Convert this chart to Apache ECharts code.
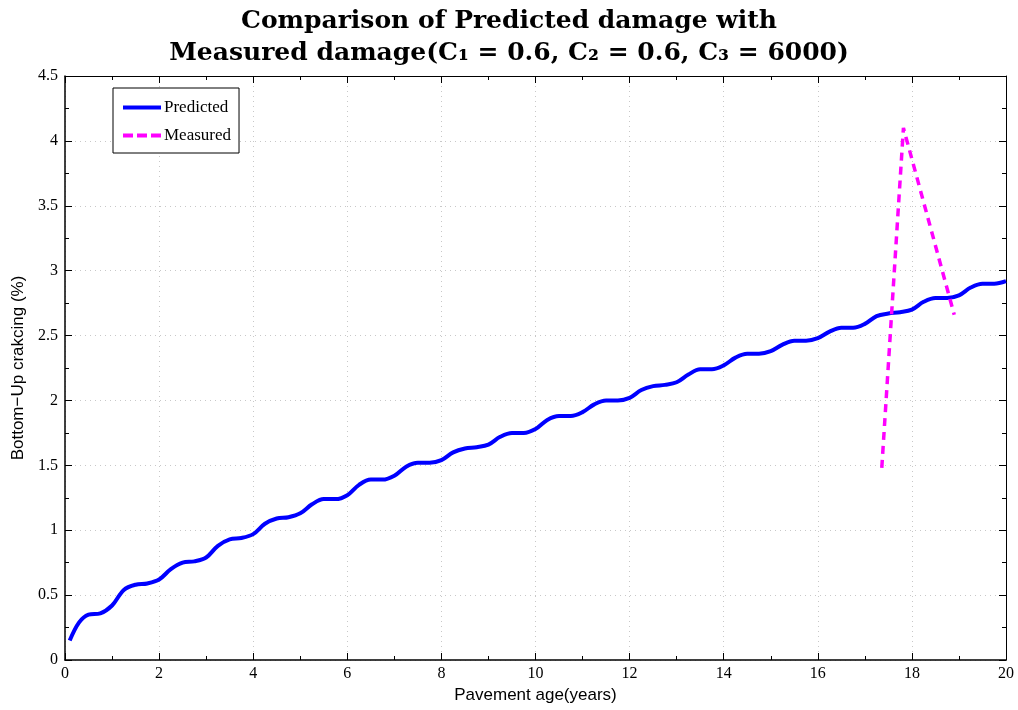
<!DOCTYPE html>
<html lang="en">
<head>
    <meta charset="UTF-8">
    <title>Predicted vs Measured damage</title>
    <script src="https://cdn.jsdelivr.net/npm/echarts@6/dist/echarts.min.js"></script>
    <style>
        html, body { margin: 0; padding: 0; background: #fff; }
        #chart { width: 1018px; height: 710px; }
    </style>
</head>
<body>
    <div id="chart"></div>
    <script>
        // pavement age (years), sampled every quarter year
        const ageYears = [0.1, 0.3, 0.5, 0.75, 1, 1.25, 1.5, 1.75, 2, 2.25, 2.5, 2.75, 3, 3.25, 3.5, 3.75, 4,
            4.25, 4.5, 4.75, 5, 5.25, 5.5, 5.75, 6, 6.25, 6.5, 6.75, 7, 7.25, 7.5, 7.75, 8,
            8.25, 8.5, 8.75, 9, 9.25, 9.5, 9.75, 10, 10.25, 10.5, 10.75, 11, 11.25, 11.5, 11.75, 12,
            12.25, 12.5, 12.75, 13, 13.25, 13.5, 13.75, 14, 14.25, 14.5, 14.75, 15, 15.25, 15.5, 15.75, 16,
            16.25, 16.5, 16.75, 17, 17.25, 17.5, 17.75, 18, 18.25, 18.5, 18.75, 19, 19.25, 19.5, 19.75, 20];
        // predicted bottom-up cracking (%)
        const predicted = [0.15, 0.29, 0.35, 0.36, 0.42, 0.54, 0.58, 0.59, 0.62, 0.70, 0.75, 0.76, 0.79, 0.88, 0.93, 0.94, 0.97,
            1.05, 1.09, 1.10, 1.13, 1.20, 1.24, 1.24, 1.27, 1.35, 1.39, 1.39, 1.42, 1.49, 1.52, 1.52, 1.54,
            1.60, 1.63, 1.64, 1.66, 1.72, 1.75, 1.75, 1.78, 1.85, 1.88, 1.88, 1.91, 1.97, 2.00, 2.00, 2.02,
            2.08, 2.11, 2.12, 2.14, 2.20, 2.24, 2.24, 2.27, 2.33, 2.36, 2.36, 2.38, 2.43, 2.46, 2.46, 2.48,
            2.53, 2.56, 2.56, 2.59, 2.65, 2.67, 2.68, 2.70, 2.76, 2.79, 2.79, 2.81, 2.87, 2.90, 2.90, 2.92];
        // measured values
        const measuredAge = [17.36, 17.82, 18.9];
        const measured = [1.48, 4.10, 2.66];

        const serif = '"Liberation Serif", "Times New Roman", serif';
        const sans = '"Liberation Sans", Arial, sans-serif';

        const boxAxis = {
            axisLine: { show: true, onZero: false, lineStyle: { color: '#000', width: 1 } },
            axisTick: { show: true, inside: true, length: 7, lineStyle: { color: '#000' } },
            minorTick: { show: true, splitNumber: 2, length: 4, lineStyle: { color: '#000' } },
            axisLabel: { show: false },
            splitLine: { show: false }
        };

        const option = {
            animation: false,
            backgroundColor: '#fff',
            title: {
                text: 'Comparison of Predicted damage with\nMeasured damage(C\u2081 = 0.6, C\u2082 = 0.6, C\u2083 = 6000)',
                left: 'center',
                top: 0,
                textStyle: {
                    fontFamily: '"DejaVu Serif", serif',
                    fontWeight: 'bold',
                    fontSize: 25,
                    lineHeight: 32,
                    color: '#000'
                }
            },
            legend: {
                left: 113,
                top: 88,
                orient: 'vertical',
                backgroundColor: '#fff',
                borderColor: '#000',
                borderWidth: 1,
                padding: [11, 8, 9, 10],
                itemGap: 11,
                itemWidth: 38,
                itemHeight: 4,
                textStyle: { fontFamily: serif, fontSize: 17, color: '#000', padding: [0, 0, 0, -2] },
                data: [
                    { name: 'Predicted', icon: 'rect' },
                    { name: 'Measured', icon: 'path://M0,0H10V4H0Z M14,0H24V4H14Z M28,0H38V4H28Z' }
                ]
            },
            grid: { left: 65, right: 12, top: 76, bottom: 50, outerBoundsMode: 'none' },
            xAxis: [{
                type: 'value',
                min: 0, max: 20, interval: 2,
                name: 'Pavement age(years)',
                nameLocation: 'middle',
                nameGap: 24,
                nameTextStyle: { fontFamily: sans, fontSize: 17, color: '#000' },
                axisLine: { show: true, onZero: false, lineStyle: { color: '#000', width: 1.5 } },
                axisTick: { show: true, inside: true, length: 7, lineStyle: { color: '#000' } },
                minorTick: { show: true, splitNumber: 2, length: 4, lineStyle: { color: '#000' } },
                axisLabel: { fontFamily: serif, fontSize: 16, color: '#000', margin: 6 },
                splitLine: { show: true, lineStyle: { color: '#c8c8c8', type: [1, 4], width: 1 } }
            }, Object.assign({ type: 'value', min: 0, max: 20, interval: 2, position: 'top' }, boxAxis)],
            yAxis: [{
                type: 'value',
                min: 0, max: 4.5, interval: 0.5,
                name: 'Bottom\u2212Up crakcing (%)',
                nameLocation: 'middle',
                nameGap: 38,
                nameTextStyle: { fontFamily: sans, fontSize: 17, color: '#000' },
                axisLine: { show: true, onZero: false, lineStyle: { color: '#000', width: 1.5 } },
                axisTick: { show: true, inside: true, length: 7, lineStyle: { color: '#000' } },
                minorTick: { show: true, splitNumber: 2, length: 4, lineStyle: { color: '#000' } },
                axisLabel: { fontFamily: serif, fontSize: 16, color: '#000', margin: 7 },
                splitLine: { show: true, lineStyle: { color: '#c8c8c8', type: [1, 4], width: 1 } }
            }, Object.assign({ type: 'value', min: 0, max: 4.5, interval: 0.5, position: 'right' }, boxAxis)],
            series: [{
                name: 'Predicted',
                type: 'line',
                smooth: 0.35,
                symbol: 'none',
                lineStyle: { color: '#0000ff', width: 4 },
                itemStyle: { color: '#0000ff' },
                data: ageYears.map((x, i) => [x, predicted[i]])
            }, {
                name: 'Measured',
                type: 'line',
                symbol: 'none',
                lineStyle: { color: '#ff00ff', width: 3.5, type: [8, 6] },
                itemStyle: { color: '#ff00ff' },
                data: measuredAge.map((x, i) => [x, measured[i]])
            }]
        };

        const chart = echarts.init(document.getElementById('chart'));
        chart.setOption(option);
    </script>
</body>
</html>
